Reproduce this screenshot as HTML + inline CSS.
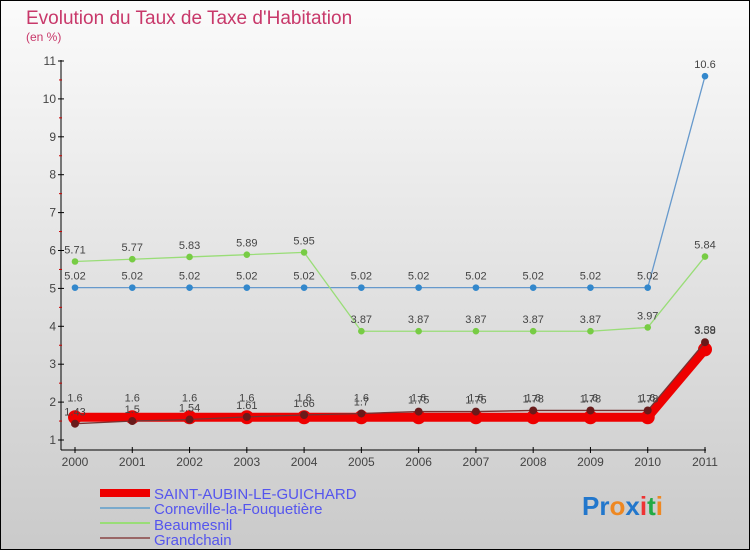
<!DOCTYPE html>
<html><head><meta charset="utf-8"><style>
body{margin:0;width:750px;height:550px;overflow:hidden}
svg{display:block}
text{font-family:"Liberation Sans",sans-serif}
</style></head><body>
<svg id="chart" width="750" height="550" xmlns="http://www.w3.org/2000/svg">
<defs><linearGradient id="bg" x1="0" y1="0" x2="0" y2="1"><stop offset="0" stop-color="#fbfbfb"/><stop offset="1" stop-color="#cacaca"/></linearGradient></defs>
<rect x="0.5" y="0.5" width="749" height="549" fill="url(#bg)" stroke="#000" stroke-width="1"/>
<text x="26" y="24" font-size="19" fill="#c8386a">Evolution du Taux de Taxe d'Habitation</text>
<text x="26" y="41" font-size="12" fill="#c8386a">(en %)</text>
<g id="axes"></g>
<g id="series"></g>
<g>
<rect x="100" y="489" width="50" height="8" fill="#ee0000"/>
<text x="154" y="499" font-size="15" fill="#5555ee">SAINT-AUBIN-LE-GUICHARD</text>
<rect x="100" y="507" width="50" height="2" fill="#7aaacc"/>
<text x="154" y="514" font-size="15" fill="#5555ee">Corneville-la-Fouquetière</text>
<rect x="100" y="522" width="50" height="2" fill="#99dd77"/>
<text x="154" y="530" font-size="15" fill="#5555ee">Beaumesnil</text>
<rect x="100" y="537" width="50" height="2" fill="#996666"/>
<text x="154" y="545" font-size="15" fill="#5555ee">Grandchain</text>
</g>
<text x="582" y="515" font-size="26" font-weight="bold"><tspan fill="#2277cc">Pr</tspan><tspan fill="#ee8822">o</tspan><tspan fill="#2277cc">x</tspan><tspan fill="#ee3333">i</tspan><tspan fill="#22aa44">t</tspan><tspan fill="#ee8822">i</tspan></text>
</svg>
<script>
const years=[2000,2001,2002,2003,2004,2005,2006,2007,2008,2009,2010,2011];
const yTicks=[1,2,3,4,5,6,7,8,9,10,11];
const saintAubin=[1.6,1.6,1.6,1.6,1.6,1.6,1.6,1.6,1.6,1.6,1.6,3.39];
const corneville=[5.02,5.02,5.02,5.02,5.02,5.02,5.02,5.02,5.02,5.02,5.02,10.6];
const beaumesnil=[5.71,5.77,5.83,5.89,5.95,3.87,3.87,3.87,3.87,3.87,3.97,5.84];
const grandchain=[1.43,1.5,1.54,1.61,1.66,1.7,1.75,1.75,1.78,1.78,1.78,3.58];
const NS="http://www.w3.org/2000/svg";
const xs=i=>75+i*(630/11);
const ys=v=>440-(v-1)*37.9;
function mk(tag,attrs,parent){const e=document.createElementNS(NS,tag);for(const k in attrs)e.setAttribute(k,attrs[k]);parent.appendChild(e);return e;}
const ax=document.getElementById('axes');
let yl=mk('line',{x1:61,y1:ys(11)-1,x2:61,y2:450,stroke:'#000'},ax);


let xl=mk('line',{x1:61,y1:450,x2:706,y2:450,stroke:'#000'},ax);


yTicks.forEach(t=>{
  mk('line',{x1:58,y1:ys(t),x2:64,y2:ys(t),stroke:'#000'},ax);
  if(t<11){mk('line',{x1:59,y1:ys(t+0.5),x2:62,y2:ys(t+0.5),stroke:'#cc0000'},ax);}
  const tx=mk('text',{x:56,y:ys(t)+4,'font-size':12,fill:'#444','text-anchor':'end'},ax);
  tx.textContent=t;
  
  
});
years.forEach((y,i)=>{
  mk('line',{x1:xs(i),y1:447,x2:xs(i),y2:453,stroke:'#000'},ax);
  const tx=mk('text',{x:xs(i),y:466,'font-size':12,fill:'#444','text-anchor':'middle'},ax);
  tx.textContent=y;
  
  
});
const sg=document.getElementById('series');
function series(name,vals,color,w,r,dot,off){
  const g=mk('g',{},sg);
  
  
  mk('polyline',{points:vals.map((v,i)=>xs(i)+','+ys(v)).join(' '),fill:'none',stroke:color,'stroke-width':w,'stroke-linejoin':'round'},g);
  vals.forEach((v,i)=>{
    const c=mk('circle',{cx:xs(i),cy:ys(v),r:r,fill:dot},g);
    
    
    const t=mk('text',{x:xs(i),y:ys(v)-off,'font-size':11,fill:'#444','text-anchor':'middle'},g);
    t.textContent=String(v);
    
    
  });
}
series('corneville-line',corneville,'#6699cc',1.3,3.3,'#3388cc',8);
series('beaumesnil-line',beaumesnil,'#99dd77',1.3,3.3,'#77cc44',8);
series('saint-aubin-line',saintAubin,'#ee0000',9,7,'#ee0000',16);
series('grandchain-line',grandchain,'#773333',1.3,4,'#6a1a1a',8);
</script>
</body></html>
